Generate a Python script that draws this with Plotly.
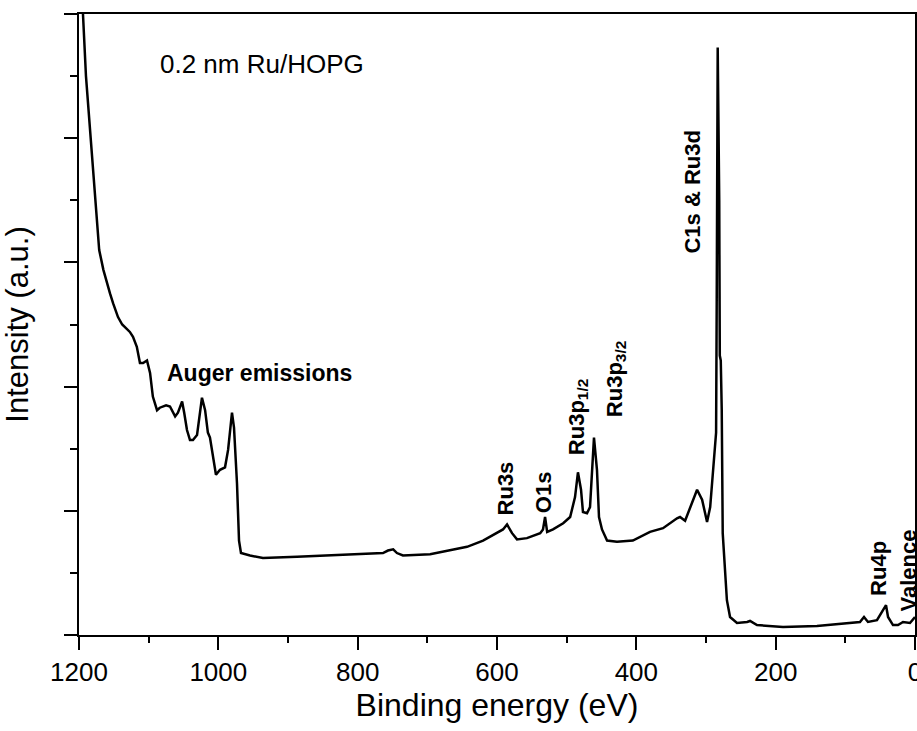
import plotly.graph_objects as go

# Binding energy (eV) and intensity (a.u.)
binding_energy = [1199, 1194.3, 1190, 1183, 1176, 1171, 1165, 1160, 1155.5, 1151, 1144, 1138, 1134, 1127,
                  1122.5, 1117, 1112.5, 1108, 1102.4, 1098, 1094, 1088, 1084, 1075, 1069.4, 1062, 1058,
                  1052, 1049, 1045, 1040.7, 1036.4, 1030.6, 1026.3, 1023.5, 1019, 1015, 1012, 1007.7,
                  1003.4, 997.6, 990.4, 986, 981.8, 980.4, 977.5, 973.2, 970.3, 967.5, 954.5, 936, 887,
                  840, 792, 763.6, 756.5, 749, 743.6, 735, 696, 667.5, 643, 620, 600, 591.4, 585.6, 578.4,
                  571.3, 557, 538, 534, 531, 528, 519.6, 505, 495, 488, 483.8, 479.4, 476.6, 470.8, 466.5,
                  463.6, 460.8, 456.5, 453.6, 449.3, 442, 427.8, 405, 380.4, 361.7, 341.6, 337.3, 330,
                  322.8, 312.8, 305.6, 298.5, 294, 290, 285.5, 284.6, 283.2, 281, 280.2, 278.8, 277.4,
                  276, 273, 270, 265.5, 255.5, 241, 236.8, 226.8, 189.5, 140.7, 93.3, 79, 73.2, 67.5,
                  54.6, 46, 41.6, 38.7, 31.6, 24.4, 17.2, 7.2, 0]
intensity = [52.7, 50.0, 45.0, 40.0, 34.9, 31.0, 29.4, 28.3, 27.5, 26.7, 25.6, 25.0, 24.8, 24.4,
             24.0, 23.2, 21.9, 21.9, 22.1, 21.1, 19.2, 18.1, 18.3, 18.5, 18.4, 17.6, 17.9,
             18.8, 17.9, 16.5, 15.7, 15.7, 16.1, 17.9, 19.1, 18.1, 16.3, 15.9, 14.3,
             12.9, 13.3, 13.5, 14.9, 17.3, 17.9, 16.7, 12.2, 7.6, 6.6, 6.4, 6.2, 6.3,
             6.4, 6.5, 6.6, 6.8, 6.9, 6.6, 6.4, 6.5, 6.8, 7.1, 7.6, 8.2, 8.5, 8.9, 8.2,
             7.7, 7.8, 8.2, 8.5, 9.5, 8.3, 8.5, 9.0, 9.5, 11.1, 13.1, 11.7, 9.9, 9.8, 10.3,
             13.0, 15.9, 13.3, 9.5, 8.5, 7.6, 7.5, 7.6, 8.3, 8.6, 9.4, 9.5, 9.2,
             10.3, 11.7, 10.9, 9.1, 10.3, 13.0, 16.3, 27.0, 47.3, 35.0, 22.5, 22.1, 18.1,
             8.2, 5.5, 2.8, 1.45, 0.97, 1.05, 1.13, 0.8, 0.64, 0.72, 0.97, 1.05, 1.45, 1.05,
             1.2, 2.0, 2.4, 1.45, 0.8, 0.8, 1.05, 0.97, 1.45]

x_ticks = [1200, 1000, 800, 600, 400, 200, 0]
x_tick_labels = ["1200", "1000", "800", "600", "400", "200", "0"]

# Peak labels: text, binding energy, intensity
peak_labels = ["Ru3s", "O1s", "Ru3p<sub>1/2</sub>", "Ru3p<sub>3/2</sub>", "C1s &amp; Ru3d", "Ru4p", "Valence"]
peak_label_be = [588.5, 534, 484.4, 429.2, 318.7, 51.7, 10]
peak_label_int = [11.8, 11.5, 17.5, 20.6, 35.7, 5.4, 5.2]

ARIAL = "Liberation Sans, Arial, sans-serif"

fig = go.Figure()
fig.add_trace(go.Scatter(x=binding_energy, y=intensity, mode="lines",
                         line=dict(color="black", width=2.5), showlegend=False))

fig.add_annotation(x=1086.6, y=46.0, xref="x", yref="y", text="0.2 nm Ru/HOPG", showarrow=False,
                   xanchor="left", yanchor="middle", font=dict(family=ARIAL, size=26, color="black"))
fig.add_annotation(x=940.9, y=21.1, xref="x", yref="y", text="<b>Auger emissions</b>", showarrow=False,
                   xanchor="center", yanchor="middle", font=dict(family=ARIAL, size=23, color="black"))
for t, xb, yi in zip(peak_labels, peak_label_be, peak_label_int):
    fig.add_annotation(x=xb, y=yi, xref="x", yref="y", text="<b>" + t + "</b>", showarrow=False,
                       textangle=-90, xanchor="center", yanchor="middle",
                       font=dict(family=ARIAL, size=22, color="black"))

fig.update_layout(
    width=917, height=731,
    margin=dict(l=79, r=2, t=14, b=96, autoexpand=False),
    paper_bgcolor="white", plot_bgcolor="white",
    xaxis=dict(range=[1200, 0], autorange=False, tickmode="array", tickvals=x_ticks, ticktext=x_tick_labels,
               ticks="outside", ticklen=13, tickwidth=2, tickcolor="black", ticklabeloverflow="allow",
               automargin=False,
               minor=dict(dtick=100, tick0=0, ticks="outside", ticklen=6, tickwidth=2, tickcolor="black"),
               showline=True, linecolor="black", linewidth=2, mirror=True, showgrid=False, zeroline=False,
               tickfont=dict(family=ARIAL, size=26, color="black"),
               title=dict(text="Binding energy (eV)", font=dict(family=ARIAL, size=32, color="black"),
                          standoff=5)),
    yaxis=dict(range=[0, 50], autorange=False, dtick=10, tick0=0, showticklabels=False,
               ticks="outside", ticklen=13, tickwidth=2, tickcolor="black", automargin=False,
               minor=dict(dtick=5, tick0=0, ticks="outside", ticklen=7, tickwidth=2, tickcolor="black"),
               showline=True, linecolor="black", linewidth=2, mirror=True, showgrid=False, zeroline=False,
               title=dict(text="Intensity (a.u.)", font=dict(family=ARIAL, size=31, color="black"),
                          standoff=26)),
)

fig.write_html("out.html")
